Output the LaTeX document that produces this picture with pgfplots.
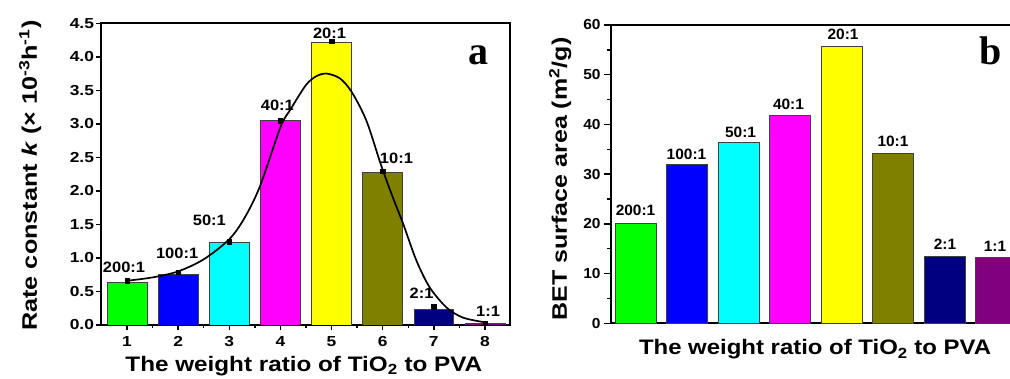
\documentclass[border=0pt]{standalone}
\usepackage{fontspec}
\setmainfont{Liberation Sans}
\newfontfamily\serifbold{Liberation Serif}
\usepackage{pgfplots}
\pgfplotsset{compat=1.18}
\definecolor{cgreen}{RGB}{0,255,0}
\definecolor{cblue}{RGB}{0,0,255}
\definecolor{ccyan}{RGB}{0,255,255}
\definecolor{cmag}{RGB}{255,0,255}
\definecolor{cyel}{RGB}{255,255,0}
\definecolor{colive}{RGB}{128,128,0}
\definecolor{cnavy}{RGB}{0,0,128}
\definecolor{cpurp}{RGB}{128,0,128}
\pgfplotsset{
  mybar/.style={ybar, bar shift=0pt, draw=black!75, line width=0.6pt, fill=#1},
}
\begin{document}
\begin{tikzpicture}[x=1pt,y=1pt]
\useasboundingbox (0,0) rectangle (1010,379);
% ---------------- panel a ----------------
\begin{axis}[
  at={(101pt,54pt)}, anchor=south west,
  scale only axis, width=409pt, height=301.7pt,
  xmin=0.49, xmax=8.49, ymin=0, ymax=4.5,
  axis line style={line width=1.8pt},
  xtick={1,...,8}, minor x tick num=1,
  ytick={0,0.5,...,4.5},
  xtick pos=left, ytick pos=left, tick align=outside,
  major tick length=5pt, minor tick length=3pt,
  every tick/.style={black, line width=1.4pt},
  /pgf/number format/assume math mode=true,
  tick label style={font=\bfseries\fontsize{14.5}{14.5}\selectfont, xscale=1.2},
  yticklabel style={/pgf/number format/fixed, /pgf/number format/fixed zerofill, /pgf/number format/precision=1, inner sep=1.5pt},
  xticklabel style={inner sep=6pt},
  xlabel={The weight ratio of TiO\textsubscript{2} to PVA},
  xlabel style={at={(axis description cs:0.496,-0.155)}, anchor=base, font=\bfseries\fontsize{21}{21}\selectfont, xscale=1.155},
  ylabel={Rate constant \textit{k} (× 10\textsuperscript{-3}h\textsuperscript{-1})},
  ylabel style={at={(axis description cs:-0.1565,0.4955)}, anchor=base, font=\bfseries\fontsize{21}{21}\selectfont, xscale=1.2},
  bar width=0.78,
]
\addplot[mybar=cgreen] coordinates {(1,0.64)};
\addplot[mybar=cblue] coordinates {(2,0.75)};
\addplot[mybar=ccyan] coordinates {(3,1.23)};
\addplot[mybar=cmag] coordinates {(4,3.05)};
\addplot[mybar=cyel] coordinates {(5,4.21)};
\addplot[mybar=colive] coordinates {(6,2.28)};
\addplot[mybar=cnavy] coordinates {(7,0.24)};
\addplot[mybar=cpurp] coordinates {(8,0.02)};
\addplot[smooth, black, line width=1.7pt, mark=none] coordinates {
 (1.0,0.66) (1.5,0.71) (2.0,0.80) (2.5,0.98) (3.0,1.28) (3.3,1.60) (3.6,2.07)
 (4.0,2.95) (4.2,3.22) (4.5,3.58) (4.7,3.71) (4.9,3.75) (5.16,3.68) (5.39,3.48)
 (5.68,3.05) (5.97,2.38) (6.2,1.90) (6.40,1.51) (6.66,0.96) (6.92,0.56)
 (7.25,0.26) (7.57,0.11) (8.0,0.04)};
\addplot[only marks, black, mark=square*, mark size=2.2pt,
  error bars/.cd, y dir=both, y explicit, error bar style={line width=1pt}] coordinates {
 (1,0.66) +- (0,0.02) (2,0.79) +- (0,0.02) (3,1.24) +- (0,0.03) (4,3.05) +- (0,0.02)
 (5,4.23) +- (0,0.03) (6,2.29) +- (0,0.02) (7,0.27) +- (0,0.03) (8,0.03) +- (0,0.01)};
\begin{scope}[every node/.style={font=\bfseries\fontsize{15}{15}\selectfont, xscale=1.1}]
\node at (axis cs:0.94,0.86) {200:1};
\node at (axis cs:1.98,1.07) {100:1};
\node at (axis cs:2.61,1.56) {50:1};
\node at (axis cs:3.94,3.28) {40:1};
\node at (axis cs:4.96,4.35) {20:1};
\node at (axis cs:6.27,2.49) {10:1};
\node at (axis cs:6.76,0.47) {2:1};
\node at (axis cs:8.06,0.21) {1:1};
\end{scope}
\node[anchor=base, font=\serifbold\bfseries\fontsize{40}{40}\selectfont] at (axis description cs:0.924,0.862) {a};
\end{axis}
% ---------------- panel b ----------------
\begin{axis}[
  at={(611pt,55.7pt)}, anchor=south west,
  scale only axis, width=409pt, height=298.3pt,
  xmin=0.524, xmax=8.466, ymin=0, ymax=60,
  axis line style={line width=1.8pt},
  xtick=\empty,
  ytick={0,10,...,60}, minor y tick num=1,
  ytick pos=left, tick align=outside,
  major tick length=7pt, minor tick length=4pt,
  every tick/.style={black, line width=1.4pt},
  /pgf/number format/assume math mode=true,
  tick label style={font=\bfseries\fontsize{14.5}{14.5}\selectfont, xscale=1.07},
  yticklabel style={inner sep=3pt},
  xlabel={The weight ratio of TiO\textsubscript{2} to PVA},
  xlabel style={at={(axis description cs:0.499,-0.106)}, anchor=base, font=\bfseries\fontsize{21}{21}\selectfont, xscale=1.14},
  ylabel={BET surface area (m\textsuperscript{2}/g)},
  ylabel style={at={(axis description cs:-0.1076,0.484)}, anchor=base, font=\bfseries\fontsize{21}{21}\selectfont, xscale=1.19},
  bar width=0.8,
]
\addplot[mybar=cgreen] coordinates {(1,20.1)};
\addplot[mybar=cblue] coordinates {(2,32.0)};
\addplot[mybar=ccyan] coordinates {(3,36.4)};
\addplot[mybar=cmag] coordinates {(4,41.8)};
\addplot[mybar=cyel] coordinates {(5,55.8)};
\addplot[mybar=colive] coordinates {(6,34.2)};
\addplot[mybar=cnavy] coordinates {(7,13.5)};
\addplot[mybar=cpurp] coordinates {(8,13.3)};
\begin{scope}[every node/.style={font=\bfseries\fontsize{15}{15}\selectfont, xscale=1.03}]
\node at (axis cs:1.0,22.8) {200:1};
\node at (axis cs:1.99,34.0) {100:1};
\node at (axis cs:3.04,38.5) {50:1};
\node at (axis cs:3.97,44.1) {40:1};
\node at (axis cs:5.03,58.1) {20:1};
\node at (axis cs:6.0,36.5) {10:1};
\node at (axis cs:7.01,15.9) {2:1};
\node at (axis cs:7.98,15.5) {1:1};
\end{scope}
\node[anchor=base, font=\serifbold\bfseries\fontsize{40}{40}\selectfont] at (axis description cs:0.929,0.866) {b};
\end{axis}
\end{tikzpicture}
\end{document}
